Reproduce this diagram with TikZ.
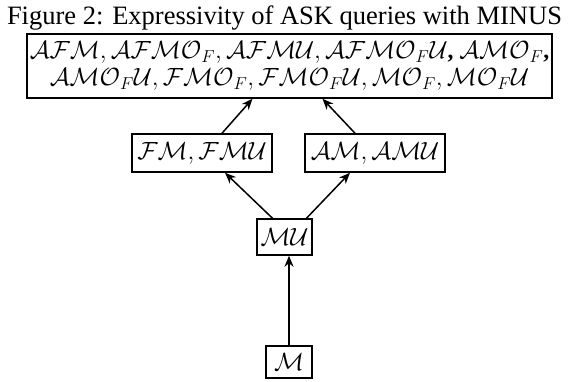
\documentclass[tikz,border=0pt]{standalone}
\usepackage{fontspec}
\setmainfont{Liberation Serif}
\usetikzlibrary{arrows.meta}
\begin{document}
\begin{tikzpicture}[x=1pt,y=-1pt,
  every node/.style={font=\fontsize{23.5}{26}\selectfont},
  lattice/.style={draw, line width=1.5pt, inner sep=0pt, align=center, anchor=center},
  link/.style={line width=1.5pt, -{Stealth[length=11pt,width=9pt,inset=3.5pt]}}]
\useasboundingbox (0,0) rectangle (568,381);

\node[font=\fontsize{26.5}{28}\selectfont] (title) at (284.5,18) {Figure 2: Expressivity of ASK queries with MINUS};

\node[lattice, minimum width=525pt, minimum height=64pt] (top) at (289.5,66)
  {$\mathcal{AFM}, \mathcal{AFMO}_F, \mathcal{AFMU}, \mathcal{AFMO}_F\mathcal{U}$\textbf{,} $\mathcal{AMO}_F$\textbf{,}\\[1pt]
   $\mathcal{AMO}_F\mathcal{U}, \mathcal{FMO}_F, \mathcal{FMO}_F\mathcal{U}, \mathcal{MO}_F, \mathcal{MO}_F\mathcal{U}$};

\node[lattice, minimum width=140pt, minimum height=38pt] (fm) at (202,153) {$\mathcal{FM}, \mathcal{FMU}$};
\node[lattice, minimum width=140pt, minimum height=38pt] (am) at (375,153) {$\mathcal{AM}, \mathcal{AMU}$};
\node[lattice, minimum width=55pt, minimum height=36pt] (mu) at (284.5,237) {$\mathcal{MU}$};
\node[lattice, minimum width=46pt, minimum height=32pt] (m) at (289,362) {$\mathcal{M}$};

\draw[link] ([xshift=20pt]fm.north) -- ([xshift=-37pt]top.south);
\draw[link] ([xshift=-20pt]am.north) -- ([xshift=33pt]top.south);
\draw[link] ([xshift=-12pt]mu.north) -- ([xshift=23pt]fm.south);
\draw[link] ([xshift=22pt]mu.north) -- ([xshift=-25pt]am.south);
\draw[link] ([xshift=4.5pt]mu.south |- m.north) -- ([xshift=4.5pt]mu.south);
\end{tikzpicture}
\end{document}
